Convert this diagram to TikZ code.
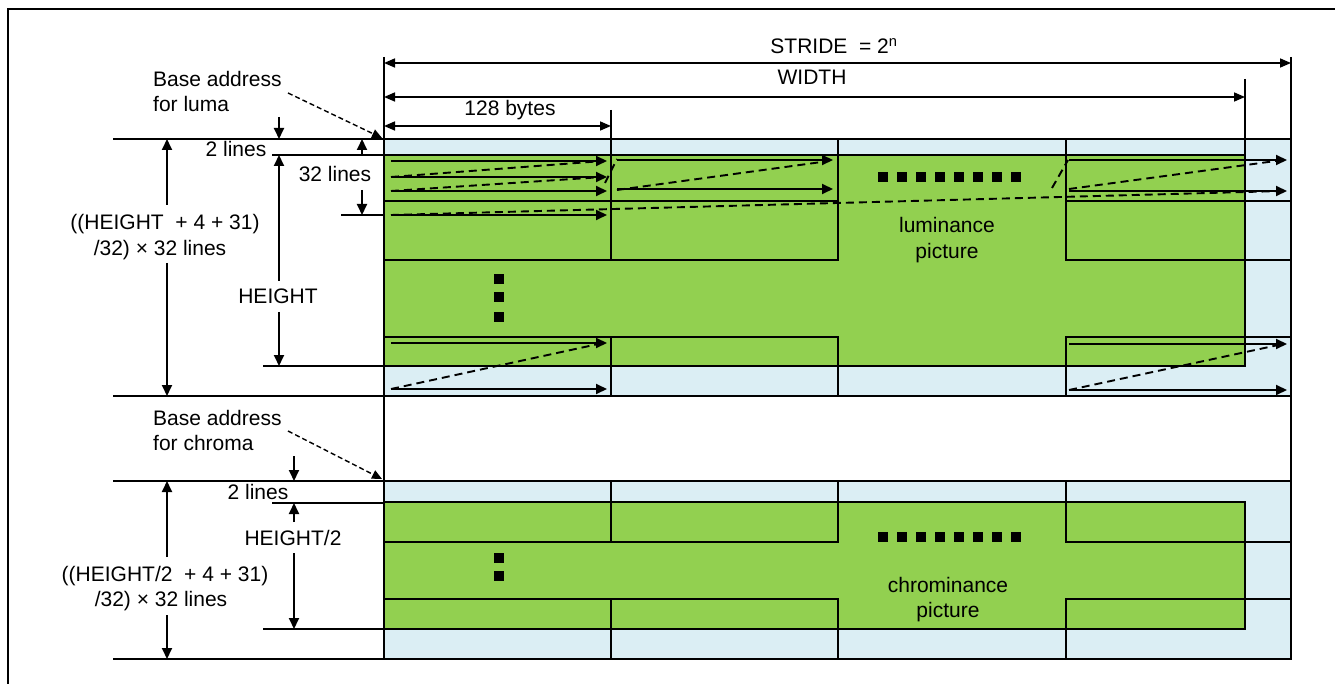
\documentclass[tikz,border=0pt]{standalone}
\usepackage{fontspec}
\setmainfont{Liberation Sans}
\usetikzlibrary{arrows.meta}
\definecolor{lb}{RGB}{219,238,244}
\definecolor{gr}{RGB}{146,208,80}
\begin{document}
\begin{tikzpicture}[x=1pt,y=-1pt,
  tip/.style={line width=1.9pt,-{Triangle[length=11pt,width=10pt]}},
  dim/.style={line width=1.6pt,{Triangle[length=11pt,width=9pt]}-{Triangle[length=11pt,width=9pt]}},
  dsh/.style={line width=1.9pt,dash pattern=on 8pt off 5pt},
  ext/.style={line width=1.6pt},
  bord/.style={line width=2.2pt},
  lbl/.style={font=\fontsize{21}{24}\selectfont, inner sep=0pt},
  sq/.style={fill=black, minimum width=10pt, minimum height=10pt, inner sep=0pt}]
\useasboundingbox (0,0) rectangle (1335,684);
% outer frame
\draw[bord] (8,9) rectangle (1360,710);

% ---------------- luma block ----------------
\fill[lb] (384,139) rectangle (1291,396);
\filldraw[fill=gr, bord] (384,155) rectangle (1245,366);
\foreach \a/\b in {384/611, 611/838, 1066/1291}{
  \draw[bord] (\a,139) rectangle (\b,201);
  \draw[bord] (\a,201) rectangle (\b,260);
  \draw[bord] (\a,337) rectangle (\b,396);
}
\draw[bord] (384,139) rectangle (1291,396);

% ---------------- chroma block ----------------
\fill[lb] (384,481) rectangle (1291,659);
\filldraw[fill=gr, bord] (384,502) rectangle (1245,629);
\foreach \a/\b in {384/611, 611/838, 1066/1291}{
  \draw[bord] (\a,481) rectangle (\b,542);
  \draw[bord] (\a,599) rectangle (\b,659);
}
\draw[bord] (384,481) rectangle (1291,659);

% extension lines
\draw[ext] (384,57) -- (384,659);
\draw[ext] (1291,57) -- (1291,659);
\draw[ext] (1245,79) -- (1245,366);
\draw[ext] (611,110) -- (611,139);

% top dimensions
\coordinate (sL) at (384,63); \coordinate (sR) at (1291,63);
\coordinate (wL) at (384,97); \coordinate (wR) at (1245,97);
\coordinate (bL) at (384,126); \coordinate (bR) at (611,126);
\draw[dim] (sL) -- (sR);
\draw[dim] (wL) -- (wR);
\draw[dim] (bL) -- (bR);
\node[lbl, anchor=base] (stride) at (834,54) {STRIDE\ \ = 2\textsuperscript{n}};
\node[lbl, anchor=base] (width) at (812,85) {WIDTH};
\node[lbl, anchor=base] (bytes) at (510,116) {128 bytes};

% ---------------- left annotations: luma ----------------
\draw[ext] (113,139) -- (384,139);
\draw[ext] (272,155) -- (384,155);
\draw[ext] (341,215) -- (384,215);
\draw[ext] (263,366) -- (384,366);
\draw[ext] (113,396) -- (384,396);

\node[lbl, anchor=base west] (bal1) at (153,87) {Base address};
\node[lbl, anchor=base west] (bal2) at (153,112) {for luma};
\coordinate (lumabase) at (382,138);
\draw[line width=1.4pt, dash pattern=on 5pt off 3pt, -{Triangle[length=10pt,width=9pt]}] (288,93) -- (lumabase);

\node[lbl, anchor=base] (twol) at (236,157) {2 lines};
\draw[tip] (279,117) -- (279,139);
\node[lbl, anchor=base] (hgt) at (278,304) {HEIGHT};
\draw[tip] (279,281) -- (279,155);
\draw[tip] (279,312) -- (279,366);
\node[lbl, anchor=base] (t32) at (335,182) {32 lines};
\draw[tip] (362,156) -- (362,139);
\draw[tip] (362,190) -- (362,215);
\node[lbl, anchor=base] (bigl1) at (165,230) {((HEIGHT\ \ + 4 + 31)};
\node[lbl, anchor=base] (bigl2) at (160,256) {/32) × 32 lines};
\draw[tip] (167,205) -- (167,139);
\draw[tip] (167,263) -- (167,396);

% ---------------- left annotations: chroma ----------------
\draw[ext] (113,481) -- (384,481);
\draw[ext] (272,503) -- (384,503);
\draw[ext] (263,629) -- (384,629);
\draw[ext] (113,659) -- (384,659);

\node[lbl, anchor=base west] (bac1) at (153,425) {Base address};
\node[lbl, anchor=base west] (bac2) at (153,450) {for chroma};
\coordinate (chromabase) at (382,479);
\draw[line width=1.4pt, dash pattern=on 5pt off 3pt, -{Triangle[length=10pt,width=9pt]}] (288,431) -- (chromabase);

\node[lbl, anchor=base] (twoc) at (258,499) {2 lines};
\draw[tip] (294,456) -- (294,481);
\node[lbl, anchor=base] (hgt2) at (293,545) {HEIGHT/2};
\draw[tip] (294,522) -- (294,503);
\draw[tip] (294,553) -- (294,629);
\node[lbl, anchor=base] (bigc1) at (165,581) {((HEIGHT/2\ \ + 4 + 31)};
\node[lbl, anchor=base] (bigc2) at (161,606) {/32) × 32 lines};
\draw[tip] (167,557) -- (167,481);
\draw[tip] (167,615) -- (167,659);

% ---------------- scan arrows in luma ----------------
\draw[tip] (391,161) -- (607,161);
\draw[tip] (391,177) -- (607,177);
\draw[tip] (391,191) -- (607,191);
\draw[dsh] (391,177) -- (603,161);
\draw[dsh] (391,191) -- (603,177);
\draw[dsh] (605,183) -- (617,159);
\draw[tip] (617,160) -- (833,160);
\draw[tip] (617,189) -- (833,189);
\draw[dsh] (617,190) -- (829,161);
\draw[tip] (391,215) -- (607,215);
\draw[dsh] (391,215) -- (1283,191);
\draw[dsh] (1052,188) -- (1068,160);
\draw[tip] (1069,160) -- (1287,160);
\draw[tip] (1069,191) -- (1287,191);
\draw[dsh] (1069,189) -- (1283,160);
\draw[tip] (391,343) -- (607,343);
\draw[tip] (391,389) -- (607,389);
\draw[dsh] (391,389) -- (603,343);
\draw[tip] (1069,344) -- (1287,344);
\draw[tip] (1069,390) -- (1287,390);
\draw[dsh] (1069,390) -- (1283,344);

% ---------------- dots ----------------
\foreach \k in {0,...,7}{
  \node[sq] (dl\k) at (883+19*\k,177) {};
  \node[sq] (dc\k) at (883+19*\k,537) {};
}
\node[sq] (vl1) at (499,279) {};
\node[sq] (vl2) at (499,297) {};
\node[sq] (vl3) at (499,317) {};
\node[sq] (vc1) at (499,558) {};
\node[sq] (vc2) at (499,576) {};

% picture labels
\node[lbl, anchor=base] (lum1) at (947,233) {luminance};
\node[lbl, anchor=base] (lum2) at (947,259) {picture};
\node[lbl, anchor=base] (chr1) at (948,592) {chrominance};
\node[lbl, anchor=base] (chr2) at (948,617) {picture};
\end{tikzpicture}
\end{document}
